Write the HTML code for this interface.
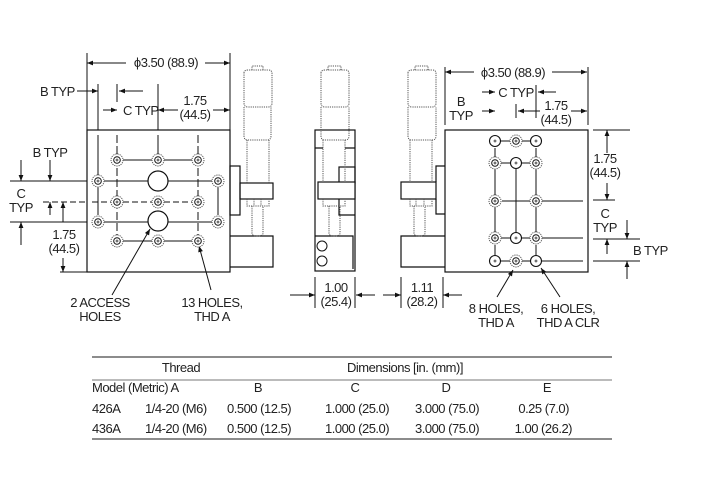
<!DOCTYPE html>
<html><head><meta charset="utf-8"><style>
html,body{margin:0;padding:0;background:#fff}
svg{display:block}
text{font-family:"Liberation Sans Narrow","Liberation Sans",sans-serif;font-size:13px;letter-spacing:-0.5px;fill:#222}
</style></head><body>
<svg width="705" height="498" viewBox="0 0 705 498" xmlns="http://www.w3.org/2000/svg">
<defs>
<marker id="a" viewBox="0 0 10 10" refX="10" refY="5" markerWidth="9" markerHeight="6" orient="auto-start-reverse" markerUnits="userSpaceOnUse"><path d="M0,1 L10,5 L0,9 z" fill="#111"/></marker>
<g id="dh"><circle r="6" fill="#fff" stroke="#555" stroke-width="1" stroke-dasharray="1.2,1"/><circle r="3.3" fill="none" stroke="#111" stroke-width="1"/><path d="M-1.5,0h3M0,-1.5v3" stroke="#111" stroke-width="0.7"/></g>
<g id="ph"><circle r="5.5" fill="#fff" stroke="#111" stroke-width="1.1"/><path d="M-1.5,0h3M0,-1.5v3" stroke="#111" stroke-width="0.7"/></g>
</defs>
<g stroke="#111" stroke-width="1.2" fill="none">
<rect x="87" y="130" width="143" height="142"/>
<rect x="230" y="166" width="10" height="49"/>
<rect x="240" y="183" width="33" height="16"/>
<path d="M230,236H273V267H230"/>
<g stroke-width="1">
<path d="M98,84V130M98,135V175M98,187V215"/>
<path d="M10,181H87M104,181H148M168,181H212"/>
<path d="M10,222H87M104,222H148M168,222H212"/>
<path d="M218,187V215"/>
<path d="M158,104V130M158,135V154"/>
<path d="M123,241H152M164,241H192M123,160H152M164,160H192" />
<path d="M43,202H87" stroke-dasharray="6,3"/>
<path d="M92,202H111M123,202H152M164,202H192" stroke-dasharray="6,3"/>
<path d="M117,84V102"/>
<path d="M117,135V235" stroke-dasharray="8,3"/>
<path d="M198,135V235" stroke-dasharray="8,3"/>
<path d="M87,53V130M230,53V130M158,84V104"/>
<path d="M60,272H87"/>
</g>
<circle cx="158" cy="181" r="10" stroke-width="1.2" fill="#fff"/>
<circle cx="158" cy="221" r="10" stroke-width="1.2" fill="#fff"/>
<g stroke="#555" stroke-width="1" stroke-dasharray="1.2,1">
<path d="M252,70V66H263V70"/>
<path d="M244,73Q244,70 248,70H268Q272,70 272,73V103Q272,107 268,107H248Q244,107 244,103Z"/>
<path d="M244,107V136Q244,140 248,140H267Q271,140 271,136V107"/>
<path d="M247,140V183M269,140V183"/>
<path d="M247,199V206H269V199M254,199V206M261,199V206"/>
<path d="M252,206V233Q252,236 257,236H258Q263,236 263,233V206"/>
</g>
<g stroke-width="1">
<path d="M126,63H87" marker-end="url(#a)"/><path d="M205,63H230" marker-end="url(#a)"/>
<path d="M77,91H98" marker-end="url(#a)"/><path d="M143,91H119" marker-end="url(#a)"/>
<path d="M103,110H117" marker-end="url(#a)"/><path d="M178,110H158" marker-end="url(#a)"/><path d="M213,110H230" marker-end="url(#a)"/>
<path d="M21,160V181" marker-end="url(#a)"/><path d="M50,160V181" marker-end="url(#a)"/>
<path d="M21,245V222" marker-end="url(#a)"/><path d="M50,215V202" marker-end="url(#a)"/>
<path d="M63,222V202" marker-end="url(#a)"/><path d="M63,258V272" marker-end="url(#a)"/>
<path d="M112,295L150,229" marker-end="url(#a)"/>
<path d="M211,290L199,246" marker-end="url(#a)"/>
</g>
<rect x="315" y="130" width="40" height="141"/>
<path d="M315,148H323M345,148H355"/>
<rect x="339" y="167" width="16" height="16"/>
<rect x="318" y="182" width="37" height="17" fill="#fff"/>
<path d="M339,199V215H355"/>
<path d="M315,236H353V269"/>
<circle cx="322" cy="246" r="5" stroke-width="1"/>
<circle cx="322" cy="261" r="5" stroke-width="1"/>
<g stroke="#555" stroke-width="1" stroke-dasharray="1.2,1">
<path d="M328,70V66H341V70"/>
<path d="M321,73Q321,70 325,70H345Q349,70 349,73V103Q349,107 345,107H325Q321,107 321,103Z"/>
<path d="M321,107V136Q321,140 325,140H345Q349,140 349,136V107"/>
<path d="M323,140V182M345,140V182"/>
<path d="M323,199V206H345V199"/>
<path d="M329,206V233Q329,236 334,236H335Q340,236 340,233V206"/>
</g>
<g stroke-width="1">
<path d="M315,277V308M355,277V308M401,277V308M443,277V308"/>
<path d="M290,295H315" marker-end="url(#a)"/><path d="M375,295H356" marker-end="url(#a)"/>
<path d="M383,295H401" marker-end="url(#a)"/><path d="M462,295H443" marker-end="url(#a)"/>
</g>
<rect x="401" y="182" width="35" height="17"/>
<path d="M436,182V166H445M436,199V214H445"/>
<path d="M445,236H401V267H445"/>
<g stroke="#555" stroke-width="1" stroke-dasharray="1.2,1">
<path d="M415,70V66H428V70"/>
<path d="M408,73Q408,70 412,70H432Q436,70 436,73V103Q436,107 432,107H412Q408,107 408,103Z"/>
<path d="M408,107V136Q408,140 412,140H432Q436,140 436,136V107"/>
<path d="M410,140V182M432,140V182"/>
<path d="M410,199V206H432V199M416,199V206M424,199V206"/>
<path d="M414,206V233Q414,236 419,236H420Q425,236 425,233V206"/>
</g>
<rect x="445" y="130" width="143" height="142"/>
<g stroke-width="1">
<path d="M516,169V233"/>
<path d="M495,148V157M495,169V195M495,207V232M495,245V255"/>
<path d="M536,148V157M536,169V195M536,207V232M536,245V255"/>
<path d="M502,201H530M542,201H583M542,238H583M542,261H583"/>
<path d="M501,141H510M522,141H530M501,163H510M522,163H530M501,238H510M522,238H530M501,261H510M522,261H530"/>
<path d="M445,67V125M588,67V125M536,85V118M516,104V118"/>
<path d="M593,130H630M593,200H615M593,239H640M593,261H640"/>
<path d="M474,72H445" marker-end="url(#a)"/><path d="M552,72H587" marker-end="url(#a)"/>
<path d="M482,92H495" marker-end="url(#a)"/><path d="M556,92H538" marker-end="url(#a)"/>
<path d="M482,111H495" marker-end="url(#a)"/><path d="M540,111H518" marker-end="url(#a)"/><path d="M571,111H587" marker-end="url(#a)"/>
<path d="M607,153V130" marker-end="url(#a)"/><path d="M607,183V200" marker-end="url(#a)"/>
<path d="M627,220V239" marker-end="url(#a)"/><path d="M607,254V239" marker-end="url(#a)"/>
<path d="M627,279V261" marker-end="url(#a)"/>
<path d="M497,297L513,270" marker-end="url(#a)"/>
<path d="M560,297L541,268" marker-end="url(#a)"/>
</g>
<path d="M92,357H612" stroke="#666" stroke-width="1.6"/>
<path d="M92,380H612" stroke="#777" stroke-width="1"/>
<path d="M92,439H612" stroke="#666" stroke-width="1.6"/>
</g>
<use href="#dh" x="117" y="160"/><use href="#dh" x="158" y="160"/><use href="#dh" x="198" y="160"/>
<use href="#dh" x="98" y="181"/><use href="#dh" x="218" y="181"/>
<use href="#dh" x="117" y="202"/><use href="#dh" x="158" y="202"/><use href="#dh" x="198" y="202"/>
<use href="#dh" x="98" y="222"/><use href="#dh" x="218" y="222"/>
<use href="#dh" x="117" y="241"/><use href="#dh" x="158" y="241"/><use href="#dh" x="198" y="241"/>
<use href="#ph" x="495" y="141"/><use href="#dh" x="516" y="141"/><use href="#ph" x="536" y="141"/>
<use href="#dh" x="495" y="163"/><use href="#ph" x="516" y="163"/><use href="#dh" x="536" y="163"/>
<use href="#dh" x="495" y="201"/><use href="#dh" x="536" y="201"/>
<use href="#dh" x="495" y="238"/><use href="#ph" x="516" y="238"/><use href="#dh" x="536" y="238"/>
<use href="#ph" x="495" y="261"/><use href="#dh" x="516" y="261"/><use href="#ph" x="536" y="261"/>
<g>
<text x="166" y="67" text-anchor="middle">ϕ3.50 (88.9)</text>
<text x="40" y="96">B TYP</text>
<text x="123" y="115">C TYP</text>
<text x="195" y="105" text-anchor="middle">1.75</text>
<text x="195" y="119" text-anchor="middle">(44.5)</text>
<text x="50" y="157" text-anchor="middle">B TYP</text>
<text x="21" y="198" text-anchor="middle">C</text>
<text x="21" y="212" text-anchor="middle">TYP</text>
<text x="64" y="239" text-anchor="middle">1.75</text>
<text x="64" y="253" text-anchor="middle">(44.5)</text>
<text x="100" y="307" text-anchor="middle">2 ACCESS</text>
<text x="100" y="321" text-anchor="middle">HOLES</text>
<text x="212" y="307" text-anchor="middle">13 HOLES,</text>
<text x="212" y="321" text-anchor="middle">THD A</text>
<text x="336" y="292" text-anchor="middle">1.00</text>
<text x="336" y="306" text-anchor="middle">(25.4)</text>
<text x="422" y="292" text-anchor="middle">1.11</text>
<text x="422" y="306" text-anchor="middle">(28.2)</text>
<text x="513" y="77" text-anchor="middle">ϕ3.50 (88.9)</text>
<text x="461" y="106" text-anchor="middle">B</text>
<text x="461" y="120" text-anchor="middle">TYP</text>
<text x="516" y="97" text-anchor="middle">C TYP</text>
<text x="556" y="110" text-anchor="middle">1.75</text>
<text x="556" y="124" text-anchor="middle">(44.5)</text>
<text x="605" y="163" text-anchor="middle">1.75</text>
<text x="605" y="177" text-anchor="middle">(44.5)</text>
<text x="605" y="218" text-anchor="middle">C</text>
<text x="605" y="232" text-anchor="middle">TYP</text>
<text x="633" y="255">B TYP</text>
<text x="496" y="313" text-anchor="middle">8 HOLES,</text>
<text x="496" y="327" text-anchor="middle">THD A</text>
<text x="568" y="313" text-anchor="middle">6 HOLES,</text>
<text x="568" y="327" text-anchor="middle">THD A CLR</text>
<text x="181" y="372" text-anchor="middle">Thread</text>
<text x="405" y="372" text-anchor="middle">Dimensions [in. (mm)]</text>
<text x="92" y="392">Model (Metric)  A</text>
<text x="258" y="392" text-anchor="middle">B</text>
<text x="355" y="392" text-anchor="middle">C</text>
<text x="446" y="392" text-anchor="middle">D</text>
<text x="547" y="392" text-anchor="middle">E</text>
<text x="92" y="413">426A</text><text x="145" y="413">1/4-20 (M6)</text><text x="227" y="413">0.500 (12.5)</text><text x="325" y="413">1.000 (25.0)</text><text x="415" y="413">3.000 (75.0)</text><text x="569" y="413" text-anchor="end">0.25 (7.0)</text>
<text x="92" y="433">436A</text><text x="145" y="433">1/4-20 (M6)</text><text x="227" y="433">0.500 (12.5)</text><text x="325" y="433">1.000 (25.0)</text><text x="415" y="433">3.000 (75.0)</text><text x="572" y="433" text-anchor="end">1.00 (26.2)</text>
</g>
</svg>
</body></html>
